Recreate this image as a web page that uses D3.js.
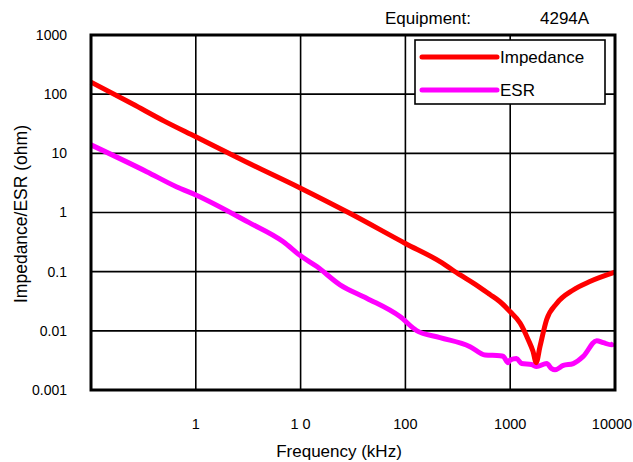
<!DOCTYPE html>
<html lang="en">
<head>
  <meta charset="UTF-8">
  <title>Impedance / ESR</title>
  <script src="https://d3js.org/d3.v7.min.js"></script>
  <style>
    body { margin: 0; background: #fff; }
    text { font-family: "Liberation Sans", Arial, sans-serif; fill: #000; }
  </style>
</head>
<body>
  <svg id="chart" width="633" height="462"></svg>
  <script>
    // values (freq in kHz, ohm)
    const impFreq = [0.1, 0.25, 0.5, 1, 3, 9.9, 29.5, 100, 214, 333, 445, 641, 800, 1000, 1242, 1486, 1650, 1770, 1923, 2228, 2775, 3993, 5750, 10000];
    const impVals = [160, 68, 35, 19, 7.2, 2.6, 0.97, 0.30, 0.148, 0.088, 0.064, 0.041, 0.031, 0.021, 0.0136, 0.0071, 0.0045, 0.0029, 0.0054, 0.0155, 0.029, 0.049, 0.068, 0.098];

    const esrFreq = [0.1, 0.34, 0.66, 1, 3.2, 6.84, 10, 14.3, 23.8, 42.7, 88.7, 128, 214, 414, 575, 800, 859, 955, 1000, 1150, 1285, 1600, 1786, 2228, 2484, 2673, 3213, 3993, 4977, 6683, 7727, 9290, 9700];
    const esrVals = [13.9, 4.9, 2.7, 1.98, 0.68, 0.32, 0.185, 0.122, 0.06, 0.0356, 0.0174, 0.0101, 0.0077, 0.0054, 0.0039, 0.0038, 0.0037, 0.0029, 0.0032, 0.0034, 0.0028, 0.0027, 0.0025, 0.0028, 0.0023, 0.0022, 0.0026, 0.0028, 0.0037, 0.0068, 0.0063, 0.0058, 0.0062];

    const xTicks = [1, 10, 100, 1000, 10000];
    const xTickLabels = ["1", "1 0", "100", "1000", "10000"];
    const yTicks = [1000, 100, 10, 1, 0.1, 0.01, 0.001];
    const yTickLabels = ["1000", "100", "10", "1", "0.1", "0.01", "0.001"];

    const seriesNames = ["Impedance", "ESR"];
    const seriesColors = ["#ff0000", "#ff00ff"];

    const svg = d3.select("#chart");
    const pLeft = 91, pRight = 615, pTop = 35, pBottom = 390;

    const x = d3.scaleLog().domain([0.1, 10000]).range([pLeft, pRight]);
    const y = d3.scaleLog().domain([0.001, 1000]).range([pBottom, pTop]);

    // grid
    svg.append("g").selectAll("line").data(xTicks.slice(0, -1)).enter().append("line")
      .attr("x1", d => x(d)).attr("x2", d => x(d))
      .attr("y1", pTop).attr("y2", pBottom)
      .attr("stroke", "#000").attr("stroke-width", 1.6);
    svg.append("g").selectAll("line").data(yTicks.slice(1, -1)).enter().append("line")
      .attr("x1", pLeft).attr("x2", pRight)
      .attr("y1", d => y(d)).attr("y2", d => y(d))
      .attr("stroke", "#000").attr("stroke-width", 1.6);

    // tick labels
    svg.append("g").selectAll("text").data(yTicks).enter().append("text")
      .attr("x", 67).attr("y", d => y(d)).attr("dy", "0.35em")
      .attr("text-anchor", "end").attr("font-size", 14)
      .text((d, i) => yTickLabels[i]);
    svg.append("g").selectAll("text").data(xTicks).enter().append("text")
      .attr("x", (d, i) => i === xTicks.length - 1 ? x(d) - 3 : x(d)).attr("y", 429)
      .attr("text-anchor", "middle").attr("font-size", 14.5)
      .text((d, i) => xTickLabels[i]);

    // axis titles
    svg.append("text").attr("x", 339).attr("y", 457).attr("text-anchor", "middle")
      .attr("font-size", 17).text("Frequency (kHz)");
    svg.append("text").attr("transform", "translate(27,214) rotate(-90)")
      .attr("text-anchor", "middle").attr("font-size", 17.5).text("Impedance/ESR (ohm)");

    svg.append("text").attr("x", 385).attr("y", 24).attr("font-size", 17).text("Equipment:");
    svg.append("text").attr("x", 540).attr("y", 24).attr("font-size", 17).text("4294A");

    // curves
    const impData = impFreq.map((f, i) => [f, impVals[i]]);
    const esrData = esrFreq.map((f, i) => [f, esrVals[i]]);

    svg.append("path").datum(esrData)
      .attr("d", d3.line().x(d => x(d[0])).y(d => y(d[1])).curve(d3.curveMonotoneX))
      .attr("fill", "none").attr("stroke", seriesColors[1]).attr("stroke-width", 5)
      .attr("stroke-linejoin", "round");
    svg.append("path").datum(impData)
      .attr("d", d3.line().x(d => x(d[0])).y(d => y(d[1])).curve(d3.curveMonotoneX))
      .attr("fill", "none").attr("stroke", seriesColors[0]).attr("stroke-width", 5)
      .attr("stroke-linejoin", "round");

    // frame
    svg.append("rect").attr("x", pLeft).attr("y", pTop)
      .attr("width", pRight - pLeft).attr("height", pBottom - pTop)
      .attr("fill", "none").attr("stroke", "#000").attr("stroke-width", 3);

    // legend
    const lg = svg.append("g");
    lg.append("rect").attr("x", 415).attr("y", 40).attr("width", 190).attr("height", 64)
      .attr("fill", "#fff").attr("stroke", "#000").attr("stroke-width", 1.6);
    seriesNames.forEach((name, i) => {
      const ly = 57 + i * 33;
      lg.append("line").attr("x1", 422).attr("x2", 497).attr("y1", ly).attr("y2", ly)
        .attr("stroke", seriesColors[i]).attr("stroke-width", 5).attr("stroke-linecap", "round");
      lg.append("text").attr("x", 500).attr("y", ly).attr("dy", "0.35em")
        .attr("font-size", 17).text(name);
    });
  </script>
</body>
</html>
